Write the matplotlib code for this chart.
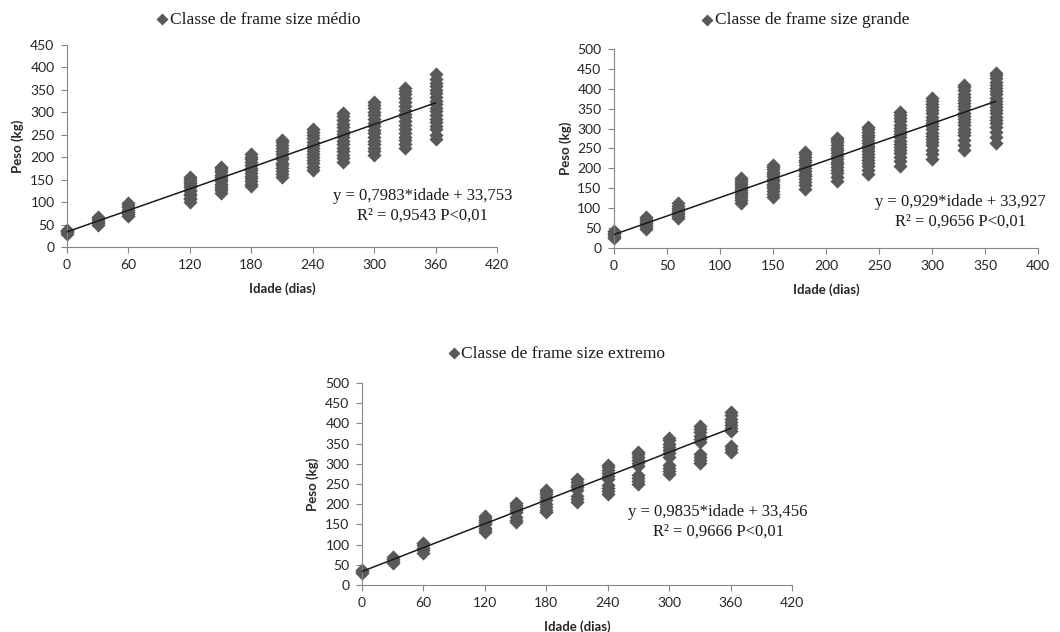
import numpy as np
import matplotlib.pyplot as plt

# idade (dias) de cada pesagem
idade = [0, 30, 60, 120, 150, 180, 210, 240, 270, 300, 330, 360]

# pesos (kg) lidos em cada idade
peso_medio = [
    [30, 33, 36, 38],
    [50, 54, 58, 62, 66],
    [68, 73, 78, 83, 88, 93, 97],
    [101, 106, 110, 115, 119, 124, 128, 133, 137, 142, 147, 151, 155],
    [121, 126, 131, 136, 141, 146, 151, 156, 161, 166, 171, 175, 178],
    [135, 141, 147, 153, 159, 165, 171, 177, 183, 189, 195, 201, 207],
    [156, 162, 169, 175, 182, 188, 195, 201, 208, 214, 221, 228, 234, 238],
    [172, 179, 186, 193, 200, 207, 214, 221, 228, 235, 242, 249, 256, 263],
    [190, 198, 206, 213, 221, 229, 236, 244, 251, 259, 267, 275, 283, 291, 298],
    [205, 213, 221, 229, 237, 245, 253, 261, 269, 277, 285, 293, 301, 309, 317, 324],
    [220, 229, 238, 246, 255, 263, 272, 280, 289, 297, 306, 314, 323, 331, 340, 348, 354],
    [240, 250, 262, 270, 278, 286, 294, 302, 310, 318, 326, 334, 342, 350, 358, 366, 374, 386],
]

peso_grande = [
    [26, 30, 34, 38, 42],
    [47, 52, 57, 62, 67, 72, 78],
    [76, 81, 86, 91, 96, 101, 106, 112],
    [114, 120, 126, 131, 136, 141, 146, 151, 156, 161, 166, 171, 175],
    [127, 136, 144, 150, 156, 162, 168, 174, 180, 186, 192, 198, 204, 209],
    [148, 158, 166, 173, 180, 187, 194, 201, 208, 215, 222, 229, 236, 241],
    [168, 178, 188, 196, 203, 210, 217, 224, 231, 238, 245, 252, 259, 266, 272, 276],
    [186, 196, 206, 214, 222, 229, 236, 243, 250, 257, 264, 271, 278, 285, 292, 299, 305],
    [207, 218, 228, 238, 246, 254, 262, 270, 278, 286, 294, 302, 310, 318, 326, 334, 342],
    [223, 235, 247, 258, 266, 274, 282, 290, 298, 306, 314, 322, 330, 338, 346, 354, 362, 370, 376],
    [247, 260, 272, 283, 292, 300, 308, 316, 324, 332, 340, 348, 356, 364, 372, 380, 388, 396, 404, 410],
    [265, 278, 292, 305, 314, 322, 330, 338, 346, 354, 362, 370, 378, 386, 394, 402, 410, 418, 426, 434, 440],
]

peso_extremo = [
    [30, 34, 38],
    [55, 60, 65, 70],
    [80, 86, 92, 98, 103],
    [130, 135, 140, 150, 155, 160, 165, 170],
    [155, 160, 168, 180, 186, 192, 198, 203],
    [180, 186, 192, 200, 210, 218, 224, 230, 235],
    [205, 212, 220, 235, 242, 248, 255, 262],
    [225, 232, 240, 248, 262, 270, 278, 285, 292, 298],
    [250, 257, 265, 272, 295, 302, 310, 318, 325, 330],
    [275, 282, 290, 298, 318, 326, 334, 342, 350, 358, 364],
    [303, 310, 318, 325, 355, 362, 370, 378, 386, 394],
    [328, 336, 345, 380, 388, 396, 404, 412, 420, 428],
]

# coeficientes das retas (inclinacao, intercepto)
reta_medio = (0.7983, 33.753)
reta_grande = (0.929, 33.927)
reta_extremo = (0.9835, 33.456)

eq_medio = 'y = 0,7983*idade + 33,753\nR² = 0,9543 P<0,01'
eq_grande = 'y = 0,929*idade + 33,927\nR² = 0,9656 P<0,01'
eq_extremo = 'y = 0,9835*idade + 33,456\nR² = 0,9666 P<0,01'

cor = '#595959'
serif = 'Liberation Serif'
sans = 'Lato'


def painel(ax, pesos, reta, titulo, eq, xmax, xstep, ymax, eq_pos, leg_pos):
    xs, ys = [], []
    for a, p in zip(idade, pesos):
        xs += [a] * len(p)
        ys += p
    ax.scatter(xs, ys, marker='D', s=52, color=cor, linewidths=0, label=titulo,
               zorder=2, clip_on=False)
    xl = np.array([0, 360])
    ax.plot(xl, reta[0] * xl + reta[1], color='#1a1a1a', lw=1.1, zorder=3)

    ax.set_xlim(0, xmax)
    ax.set_ylim(0, ymax)
    ax.set_xticks(np.arange(0, xmax + 1, xstep))
    ax.set_yticks(np.arange(0, ymax + 1, 50))
    for s in ['top', 'right']:
        ax.spines[s].set_visible(False)
    for s in ['left', 'bottom']:
        ax.spines[s].set_color('#868686')
        ax.spines[s].set_linewidth(0.8)
    ax.tick_params(length=4, width=0.8, color='#868686', pad=5, labelsize=10)
    for t in ax.get_xticklabels() + ax.get_yticklabels():
        t.set_fontfamily(sans)
        t.set_color('#262626')

    ax.set_xlabel('Idade (dias)', fontfamily=sans, fontweight='bold', fontsize=9.5, color='#262626')
    ax.set_ylabel('Peso (kg)', fontfamily=sans, fontweight='bold', fontsize=9.5, color='#262626')
    ax.xaxis.set_label_coords(0.5, -0.175)
    ax.yaxis.set_label_coords(-0.10, 0.5)

    ax.text(eq_pos[0], eq_pos[1], eq, transform=ax.transAxes, ha='center', va='center',
            multialignment='center', fontfamily=serif, fontsize=12, linespacing=1.3,
            color='#1a1a1a', clip_on=False)

    leg = ax.legend(loc='center', bbox_to_anchor=leg_pos, frameon=False,
                    handletextpad=0.05, handlelength=0.8, borderpad=0, markerscale=0.85,
                    prop={'family': serif, 'size': 12.5})
    for t in leg.get_texts():
        t.set_color('#1a1a1a')


fig = plt.figure(figsize=(10.6, 6.32), dpi=100)
ax1 = fig.add_axes([0.0632, 0.6092, 0.4057, 0.3196])
ax2 = fig.add_axes([0.5792, 0.6076, 0.4000, 0.3149])
ax3 = fig.add_axes([0.3415, 0.0744, 0.4057, 0.3196])

painel(ax1, peso_medio, reta_medio, 'Classe de frame size médio', eq_medio,
       420, 60, 450, (0.826, 0.203), (0.444, 1.125))
painel(ax2, peso_grande, reta_grande, 'Classe de frame size grande', eq_grande,
       400, 50, 500, (0.818, 0.181), (0.45, 1.145))
painel(ax3, peso_extremo, reta_extremo, 'Classe de frame size extremo', eq_extremo,
       420, 60, 500, (0.828, 0.312), (0.451, 1.144))

fig.savefig('out.png', dpi=100, facecolor='white')
